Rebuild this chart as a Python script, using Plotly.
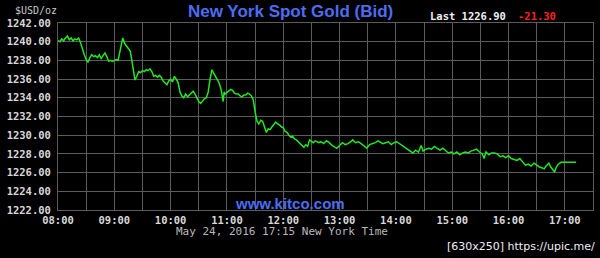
import plotly.graph_objects as go
import pandas as pd

# minutes after 08:00 on 2016-05-24 and spot gold bid prices
minutes = [0, 2, 4, 6, 8, 10, 12, 14, 16, 18, 20, 22, 24, 26, 28, 30, 32, 34, 36, 38,
           40, 42, 44, 46, 48, 50, 52, 54, 56, 58, 60, 62, 64, 66, 68, 69, 71, 73, 75, 77,
           79, 81, 82, 84, 86, 88, 90, 92, 94, 96, 98, 100, 102, 104, 106, 108, 110, 112, 114, 116,
           118, 120, 122, 124, 126, 128, 130, 132, 134, 136, 138, 140, 142, 144, 146, 148, 150, 152, 154, 156,
           158, 160, 162, 164, 166, 168, 170, 172, 174, 176, 177, 178, 180, 182, 184, 186, 188, 190, 192, 194,
           196, 198, 200, 202, 204, 206, 208, 210, 212, 214, 216, 218, 220, 222, 224, 226, 228, 230, 232, 234,
           236, 238, 240, 242, 244, 246, 248, 250, 252, 254, 256, 258, 260, 262, 264, 266, 268, 270, 272, 274,
           276, 278, 280, 283, 286, 289, 292, 295, 297, 300, 303, 306, 309, 312, 314, 317, 320, 323, 326, 329,
           332, 335, 338, 341, 343, 346, 349, 352, 355, 358, 361, 364, 367, 370, 373, 376, 378, 381, 384, 387,
           389, 392, 395, 398, 401, 404, 407, 410, 413, 416, 419, 422, 425, 428, 431, 434, 437, 440, 443, 446,
           449, 452, 454, 456, 459, 462, 465, 468, 471, 474, 477, 480, 483, 486, 489, 492, 495, 498, 501, 504,
           507, 510, 513, 516, 518, 520, 523, 525, 527, 529, 531, 533, 536, 540, 545, 552]
prices = [1240.1, 1240.0, 1240.3, 1240.1, 1240.4, 1240.6, 1240.2, 1240.4, 1240.1, 1240.3,
          1240.2, 1240.4, 1239.9, 1239.2, 1238.6, 1238.1, 1237.8, 1238.3, 1238.6, 1238.4,
          1238.5, 1238.3, 1238.6, 1238.2, 1238.5, 1238.8, 1238.4, 1237.9, 1238.0, 1237.9,
          1238.0, 1238.1, 1238.0, 1238.9, 1240.0, 1240.4, 1239.8, 1239.5, 1239.3, 1239.0,
          1237.8, 1236.5, 1235.9, 1236.3, 1236.8, 1236.7, 1236.9, 1236.8, 1237.0, 1236.9,
          1237.1, 1236.8, 1236.3, 1236.4, 1236.2, 1236.4, 1236.2, 1235.8, 1235.6, 1235.4,
          1235.8, 1236.0, 1235.7, 1236.3, 1236.0, 1235.6, 1234.6, 1234.2, 1234.0, 1234.4,
          1234.1, 1234.3, 1234.6, 1234.7, 1234.4, 1233.9, 1233.6, 1233.4, 1233.7, 1233.9,
          1234.0, 1234.6, 1236.0, 1237.0, 1236.6, 1236.3, 1235.9, 1235.5, 1234.8, 1233.6,
          1234.6, 1234.4, 1234.6, 1234.7, 1234.9, 1234.8, 1234.5, 1234.4, 1234.4, 1234.2,
          1234.1, 1234.3, 1234.3, 1234.5, 1234.4, 1234.2, 1233.8, 1232.5, 1231.5, 1231.2,
          1231.6, 1231.5, 1230.8, 1230.3, 1230.7, 1230.6, 1230.9, 1231.2, 1231.4, 1231.2,
          1231.1, 1230.9, 1230.8, 1230.4, 1230.3, 1230.0, 1229.8, 1229.9, 1229.6, 1229.5,
          1229.3, 1229.0, 1228.8, 1228.7, 1229.0, 1228.8, 1229.5, 1229.3, 1229.2, 1229.4,
          1229.3, 1229.2, 1229.3, 1229.1, 1229.4, 1229.2, 1228.9, 1228.7, 1228.6, 1228.9,
          1229.2, 1229.0, 1229.1, 1229.3, 1229.5, 1229.2, 1229.3, 1229.1, 1228.8, 1228.6,
          1229.0, 1229.1, 1229.2, 1229.4, 1229.3, 1229.1, 1229.2, 1229.3, 1229.0, 1229.2,
          1229.3, 1229.1, 1228.9, 1228.7, 1228.5, 1228.3, 1228.1, 1228.4, 1228.2, 1228.9,
          1228.3, 1228.5, 1228.6, 1228.5, 1228.8, 1228.6, 1228.4, 1228.6, 1228.3, 1228.1,
          1228.2, 1228.0, 1228.2, 1227.9, 1228.1, 1228.2, 1228.1, 1228.3, 1228.4, 1228.5,
          1228.2, 1228.0, 1227.5, 1228.2, 1227.9, 1228.1, 1228.1, 1228.0, 1227.7, 1227.8,
          1227.6, 1227.8, 1227.5, 1227.4, 1227.3, 1227.5, 1227.2, 1226.8, 1226.9, 1226.7,
          1227.0, 1226.8, 1226.6, 1226.5, 1226.4, 1226.7, 1227.0, 1226.6, 1226.3, 1226.1,
          1226.6, 1226.9, 1227.1, 1227.1, 1227.1, 1227.1]

x_start = "2016-05-24 08:00"
x_end = "2016-05-24 17:30"
y_ticks = [1222, 1224, 1226, 1228, 1230, 1232, 1234, 1236, 1238, 1240, 1242]

times = pd.Timestamp(x_start) + pd.to_timedelta(minutes, unit="m")

grid = "#5c5c5c"
mono = "DejaVu Sans Mono, Liberation Mono, monospace"

fig = go.Figure()
fig.add_trace(go.Scatter(x=times, y=prices, mode="lines",
                         line=dict(color="#22e822", width=1.5),
                         hoverinfo="skip", showlegend=False))

fig.update_layout(
    width=600, height=258,
    margin=dict(l=58, r=7, t=23, b=48),
    paper_bgcolor="black", plot_bgcolor="black",
    xaxis=dict(range=[x_start, x_end], type="date",
               tickformat="%H:%M", dtick=3600000, tick0="2016-05-24 08:00",
               showgrid=True, gridcolor=grid, gridwidth=1,
               minor=dict(dtick=1800000, showgrid=True, gridcolor=grid, gridwidth=1, ticks=""),
               showline=True, linecolor=grid, mirror=True, ticks="",
               zeroline=False,
               tickfont=dict(family=mono, size=10.5, color="#d8d8d8", weight="bold")),
    yaxis=dict(range=[1222, 1242], tickvals=y_ticks, tickformat=".2f",
               showgrid=True, gridcolor=grid, gridwidth=1,
               showline=True, linecolor=grid, mirror=True, ticks="",
               zeroline=False, ticklabelstandoff=4,
               tickfont=dict(family=mono, size=10.5, color="#d8d8d8", weight="bold")),
)

ann = [
    dict(text="New York Spot Gold (Bid)", x=290, y=246, font=dict(family="Liberation Sans, Arial", size=17, color="#4d6cf0", weight="bold")),
    dict(text="$USD/oz", x=36, y=247, font=dict(family=mono, size=10, color="#c8c8c8")),
    dict(text="Last 1226.90", x=468, y=242, font=dict(family=mono, size=10.5, color="#f0f0f0", weight="bold")),
    dict(text="-21.30", x=537, y=242, font=dict(family=mono, size=10.5, color="#ff2020", weight="bold")),
    dict(text="www.kitco.com", x=290, y=55, font=dict(family="Liberation Sans, Arial", size=15, color="#4d6cf0", weight="bold")),
    dict(text="May 24, 2016 17:15 New York Time", x=281.5, y=27, font=dict(family=mono, size=11, color="#b8b8b8")),
    dict(text="[630x250] https://upic.me/", x=521, y=11, font=dict(family="DejaVu Sans, sans-serif", size=11, color="#f0f0f0")),
]
for a in ann:
    fig.add_annotation(xref="paper", yref="paper", x=(a["x"] - 58) / 535, y=(a["y"] - 48) / 187,
                       text=a["text"], showarrow=False, xanchor="center", yanchor="middle",
                       font=a["font"])

fig.write_html("out.html")
